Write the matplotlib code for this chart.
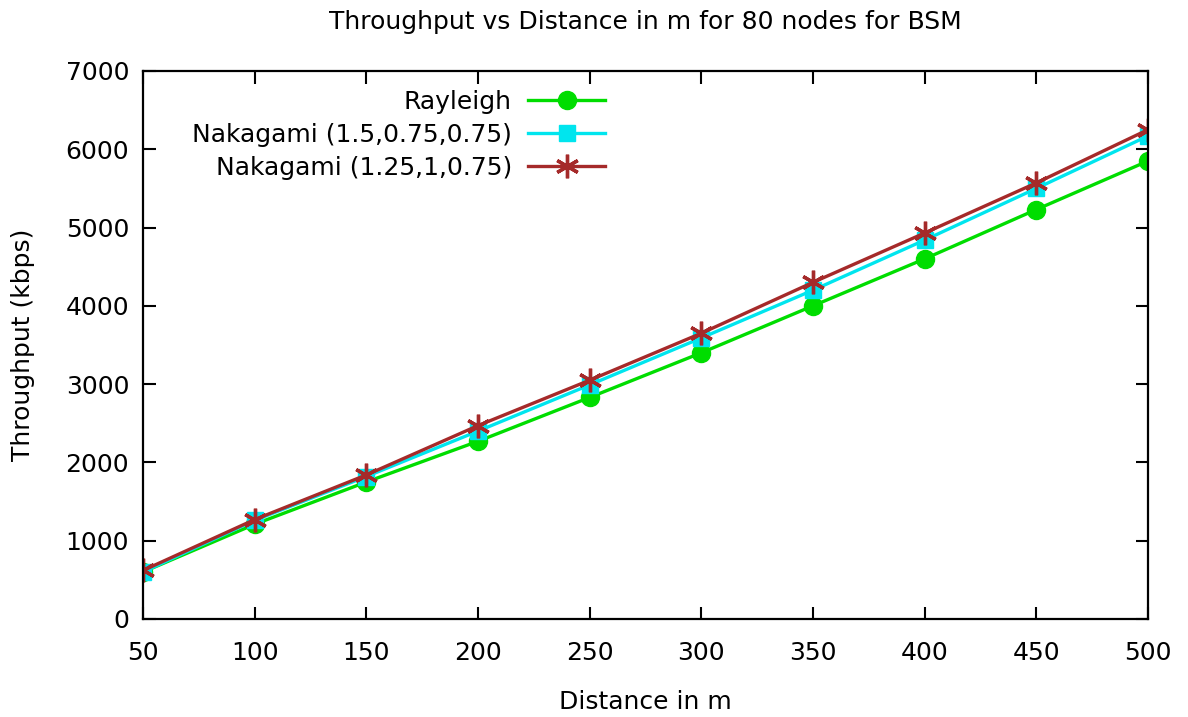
import matplotlib
matplotlib.use('Agg')
import matplotlib.pyplot as plt

distance = [50, 100, 150, 200, 250, 300, 350, 400, 450, 500]
rayleigh = [600, 1210, 1750, 2270, 2830, 3400, 4000, 4600, 5230, 5850]
nakagami_a = [600, 1260, 1820, 2400, 2990, 3590, 4200, 4840, 5500, 6170]
nakagami_b = [620, 1270, 1840, 2470, 3050, 3650, 4300, 4930, 5570, 6250]

plt.rcParams['font.family'] = ['DejaVu Sans']

fig = plt.figure(figsize=(11.88, 7.17), dpi=100)
ax = fig.add_axes([0.1204, 0.1367, 0.9663 - 0.1204, 0.901 - 0.1367])

ax.plot(distance, rayleigh, color='#00dd00', lw=2.4, marker='o', ms=13,
        label='Rayleigh')
ax.plot(distance, nakagami_a, color='#00e5ee', lw=2.4, marker='s', ms=12,
        label='Nakagami (1.5,0.75,0.75)')
ax.plot(distance, nakagami_b, color='#a52a2a', lw=2.4, marker=(6, 2, 0), ms=17,
        mew=2.4, label='Nakagami (1.25,1,0.75)')

ax.set_xlim(50, 500)
ax.set_ylim(0, 7000)
ax.set_xticks(distance)
ax.set_yticks(range(0, 7001, 1000))
ax.tick_params(direction='in', length=9, width=1.5, labelsize=18,
               top=True, right=True)
ax.tick_params(axis='x', pad=16)
ax.tick_params(axis='y', pad=10)
for s in ax.spines.values():
    s.set_linewidth(1.6)

ax.set_xlabel('Distance in m', fontsize=18, labelpad=18)
ax.set_ylabel('Throughput (kbps)', fontsize=18, labelpad=22)
ax.set_title('Throughput vs Distance in m for 80 nodes for BSM', fontsize=18, pad=30)

leg = ax.legend(loc='upper right', bbox_to_anchor=(0.46, 0.965), frameon=False,
                markerfirst=False, fontsize=18, handlelength=3.1,
                labelspacing=0.35, handletextpad=0.64, borderpad=0,
                borderaxespad=0)
for t in leg.get_texts():
    t.set_ha('right')

fig.savefig('out.png', dpi=100)
